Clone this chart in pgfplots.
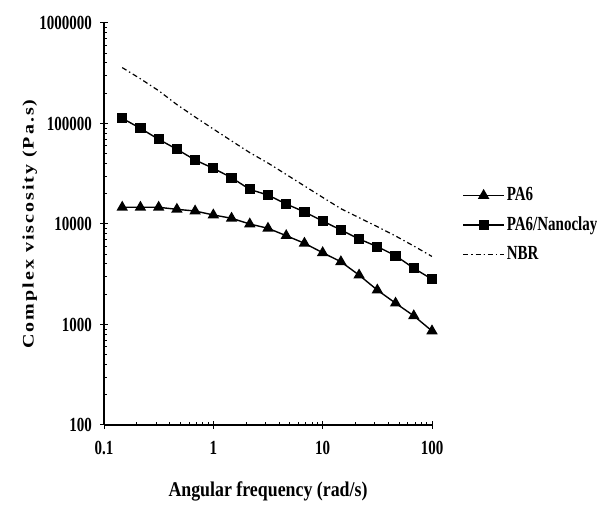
\documentclass[border=0pt]{standalone}
\usepackage{pgfplots}
\pgfplotsset{compat=1.18}
\usepackage{pgfplotstable}
\usepackage{fontspec}
\setmainfont{Liberation Serif}
\usepackage{graphicx}

% narrow setting of horizontal text
\newcommand{\nx}[1]{\scalebox{0.75}[1]{#1}}

% complex viscosity vs angular frequency
\pgfplotstableread{
w       pa6    nano    nbr
0.1468  14660  112700  360000
0.2154  14660  89500   278500
0.3162  14660  69600   212000
0.4642  14000  55400   154200
0.6813  13460  43300   116100
1       12300  35800   88100
1.468   11400  28900   67100
2.154   10000  22100   51300
3.162   9060   19400   40400
4.642   7650   15800   31100
6.813   6430   13200   23900
10      5180   10700   18400
14.68   4210   8720    14200
21.54   3100   7090    11550
31.62   2200   5950    9400
46.42   1630   4840    7600
68.13   1220   3630    6040
100     862    2820    4750
}\visc

\begin{document}
\begin{tikzpicture}
\path[use as bounding box] (0,0) rectangle (298.5pt,253pt);
\begin{axis}[
  at={(52pt,40.5pt)}, anchor=south west,
  scale only axis, width=164pt, height=201pt,
  xmode=log, ymode=log,
  xmin=0.1, xmax=100, ymin=100, ymax=1000000,
  axis lines*=left,
  axis line style={line width=0.7pt, black},
  xtick={0.1,1,10,100},
  xticklabels={\nx{0.1},\nx{1},\nx{10},\nx{100}},
  ytick={100,1000,10000,100000,1000000},
  yticklabels={\nx{100},\nx{1000},\nx{10000},\nx{100000},\nx{1000000}},
  minor xtick={0.2,0.3,0.4,0.5,0.6,0.7,0.8,0.9,2,3,4,5,6,7,8,9,20,30,40,50,60,70,80,90},
  minor ytick={200,300,400,500,600,700,800,900,2000,3000,4000,5000,6000,7000,8000,9000,20000,30000,40000,50000,60000,70000,80000,90000,200000,300000,400000,500000,600000,700000,800000,900000},
  extra x ticks={0.1,1,10,100}, extra x tick labels={},
  extra y ticks={100,1000,10000,100000,1000000}, extra y tick labels={},
  extra tick style={tick align=outside, major tick length=2pt},
  tick align=inside,
  major tick length=2pt, minor tick length=1.6pt,
  tick style={line width=0.5pt, black},
  tick label style={font=\bfseries\fontsize{10}{12}\selectfont},
  xticklabel style={yshift=-4.5pt},
  yticklabel style={xshift=-2.5pt},
  xlabel={\scalebox{0.85}[1]{Angular frequency (rad/s)}},
  xlabel style={font=\bfseries\fontsize{10.5}{12}\selectfont, at={(axis description cs:0.5,-0.164)}, anchor=center},
  ylabel={\scalebox{1}[0.8]{\addfontfeature{LetterSpace=10}Complex viscosity (Pa.s)}},
  ylabel style={font=\bfseries\fontsize{10}{12}\selectfont, at={(axis description cs:-0.226,0.5)}, anchor=center},
  legend style={draw=none, fill=none, inner sep=0pt,
    at={(axis description cs:1.0915,0.4975)}, anchor=west,
    font=\bfseries\fontsize{10}{12}\selectfont,
    nodes={inner xsep=1pt, inner ysep=1pt, text height=7pt, text depth=2pt},
    row sep=3.75pt},
  legend cell align=left,
  legend image code/.code={\draw[mark repeat=2,mark phase=2,#1] plot coordinates {(0pt,0pt) (10.25pt,0pt) (20.5pt,0pt)};},
]
\addplot[black, line width=0.7pt, mark=triangle*, mark size=2.6pt, mark options={solid}] table[x=w, y=pa6] {\visc};
\addlegendentry{\nx{PA6}}
\addplot[black, line width=0.7pt, mark=square*, mark size=2.2pt, mark options={solid}] table[x=w, y=nano] {\visc};
\addlegendentry{\nx{PA6/Nanoclay}}
\addplot[black, line width=0.6pt, dash pattern=on 2.5pt off 1.5pt on 0.7pt off 1.5pt] table[x=w, y=nbr] {\visc};
\addlegendentry{\nx{NBR}}
\end{axis}
\end{tikzpicture}
\end{document}
